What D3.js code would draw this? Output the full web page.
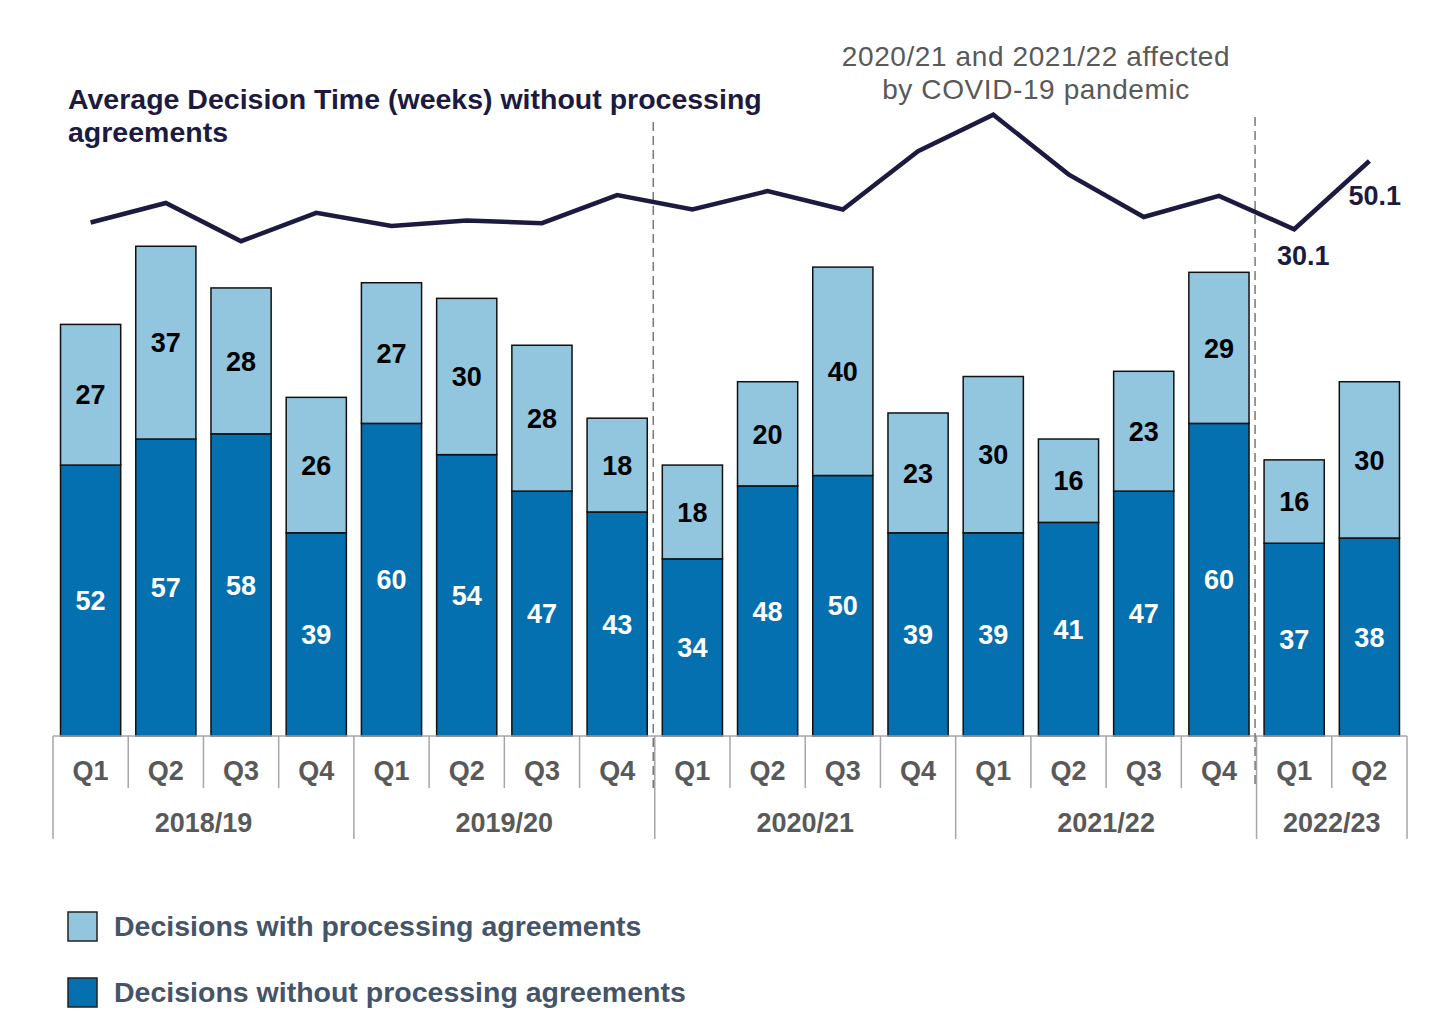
<!DOCTYPE html>
<html lang="en">
<head>
<meta charset="UTF-8">
<title>Average Decision Time</title>
<script src="https://d3js.org/d3.v7.min.js"></script>
<style>
  body { margin: 0; background: #fff; }
  text { font-family: "Liberation Sans", Arial, sans-serif; }
</style>
</head>
<body>
<div id="chart"></div>
<script>
// data
const years = ["2018/19", "2019/20", "2020/21", "2021/22", "2022/23"];
const yearQuarters = [4, 4, 4, 4, 2];
const quarters = ["Q1","Q2","Q3","Q4","Q1","Q2","Q3","Q4","Q1","Q2","Q3","Q4","Q1","Q2","Q3","Q4","Q1","Q2"];
const withPA = [27, 37, 28, 26, 27, 30, 28, 18, 18, 20, 40, 23, 30, 16, 23, 29, 16, 30];
const withoutPA = [52, 57, 58, 39, 60, 54, 47, 43, 34, 48, 50, 39, 39, 41, 47, 60, 37, 38];
const avgWeeks = [32.1, 37.8, 26.6, 34.9, 31.1, 32.7, 31.9, 40.1, 35.9, 41.3, 35.9, 53.0, 63.7, 46.2, 33.7, 39.9, 30.1, 50.1];
const labelledPoints = [16, 17];
const covidBreaks = [8, 16]; // dashed line before these bars

const W = 1450, H = 1036;
const darkBlue = "#0570b0", lightBlue = "#92c5de", navy = "#1c1a3f", grey = "#595959";

const svg = d3.select("#chart").append("svg")
  .attr("width", W).attr("height", H);

const idx = d3.range(quarters.length);
const x = d3.scaleBand().domain(idx).range([53, 1407])
  .paddingInner(0.2).paddingOuter(0.1);
const y = d3.scaleLinear().domain([0, 100]).range([736, 215]);
const yLine = d3.scaleLinear().domain([0, 80]).range([332, 59]);

const step = x.step();
const gapHalf = step * x.paddingInner() / 2;
const leftEdge = i => x(i) - gapHalf;

// stacked bars
const stacked = idx.map(i => ({ i, lo: withoutPA[i], hi: withPA[i] }));
const bars = svg.append("g");

bars.selectAll("rect.lo").data(stacked).join("rect")
  .attr("x", d => x(d.i)).attr("width", x.bandwidth())
  .attr("y", d => y(d.lo)).attr("height", d => y(0) - y(d.lo))
  .attr("fill", darkBlue).attr("stroke", "#111").attr("stroke-width", 1.5);

bars.selectAll("rect.hi").data(stacked).join("rect")
  .attr("x", d => x(d.i)).attr("width", x.bandwidth())
  .attr("y", d => y(d.lo + d.hi)).attr("height", d => y(d.lo) - y(d.lo + d.hi))
  .attr("fill", lightBlue).attr("stroke", "#111").attr("stroke-width", 1.5);

bars.selectAll("text.lo").data(stacked).join("text")
  .attr("x", d => x(d.i) + x.bandwidth() / 2)
  .attr("y", d => y(d.lo / 2)).attr("dy", "0.36em")
  .attr("text-anchor", "middle").attr("font-size", 27).attr("font-weight", "bold")
  .attr("fill", "#fff").text(d => d.lo);

bars.selectAll("text.hi").data(stacked).join("text")
  .attr("x", d => x(d.i) + x.bandwidth() / 2)
  .attr("y", d => y(d.lo + d.hi / 2)).attr("dy", "0.36em")
  .attr("text-anchor", "middle").attr("font-size", 27).attr("font-weight", "bold")
  .attr("fill", "#000").text(d => d.hi);

// category axis (two levels)
const axis = svg.append("g").attr("stroke", "#a6a6a6").attr("stroke-width", 1.5);
axis.append("line").attr("x1", x.range()[0]).attr("x2", x.range()[1])
  .attr("y1", y(0)).attr("y2", y(0));

let starts = [], s = 0;
yearQuarters.forEach(n => { starts.push(s); s += n; });
const isGroupStart = i => starts.includes(i);

idx.forEach(i => {
  if (i === 0 || isGroupStart(i)) return;
  axis.append("line").attr("x1", leftEdge(i)).attr("x2", leftEdge(i))
    .attr("y1", y(0)).attr("y2", 788);
});
starts.concat([quarters.length]).forEach(i => {
  const xx = i === 0 ? x.range()[0] : (i === quarters.length ? x.range()[1] : leftEdge(i));
  axis.append("line").attr("x1", xx).attr("x2", xx).attr("y1", y(0)).attr("y2", 839);
});

svg.append("g").selectAll("text").data(idx).join("text")
  .attr("x", i => x(i) + x.bandwidth() / 2).attr("y", 780)
  .attr("text-anchor", "middle").attr("font-size", 27).attr("font-weight", "bold")
  .attr("fill", grey).text(i => quarters[i]);

svg.append("g").selectAll("text").data(years).join("text")
  .attr("x", (d, k) => {
    const a = starts[k], b = a + yearQuarters[k];
    const x0 = a === 0 ? x.range()[0] : leftEdge(a);
    const x1 = b === quarters.length ? x.range()[1] : leftEdge(b);
    return (x0 + x1) / 2;
  })
  .attr("y", 832).attr("text-anchor", "middle").attr("font-size", 27)
  .attr("font-weight", "bold").attr("fill", grey).text(d => d);

// dashed covid markers
svg.append("g").selectAll("line").data(covidBreaks).join("line")
  .attr("x1", i => leftEdge(i) - 1.5).attr("x2", i => leftEdge(i) - 1.5)
  .attr("y1", (d, k) => k === 0 ? 122 : 117).attr("y2", 788)
  .attr("stroke", "#777").attr("stroke-width", 1.5).attr("stroke-dasharray", "9,5");

// average decision time line
const line = d3.line()
  .x((d, i) => x(i) + x.bandwidth() / 2)
  .y(d => yLine(d));

svg.append("path").datum(avgWeeks)
  .attr("fill", "none").attr("stroke", navy).attr("stroke-width", 4.5)
  .attr("stroke-linejoin", "miter").attr("d", line);

svg.append("g").selectAll("text").data(labelledPoints).join("text")
  .attr("x", (i, k) => x(i) + x.bandwidth() / 2 + (k === 0 ? 9 : -21))
  .attr("y", (i, k) => yLine(avgWeeks[i]) + (k === 0 ? 36 : 44))
  .attr("text-anchor", (i, k) => k === 0 ? "middle" : "start")
  .attr("font-size", 27).attr("font-weight", "bold").attr("fill", navy)
  .text(i => avgWeeks[i].toFixed(1));

// title
const title = svg.append("text").attr("x", 68).attr("y", 109)
  .attr("font-size", 28.5).attr("font-weight", "bold").attr("fill", navy);
title.append("tspan").attr("x", 68).text("Average Decision Time (weeks) without processing");
title.append("tspan").attr("x", 68).attr("dy", 33).text("agreements");

// covid note
const note = svg.append("text").attr("x", 1036).attr("y", 66)
  .attr("font-size", 28).attr("letter-spacing", 0.6)
  .attr("text-anchor", "middle").attr("fill", grey);
note.append("tspan").attr("x", 1036).text("2020/21 and 2021/22 affected");
note.append("tspan").attr("x", 1036).attr("dy", 33).text("by COVID-19 pandemic");

// legend
const legendItems = [
  { label: "Decisions with processing agreements", color: lightBlue },
  { label: "Decisions without processing agreements", color: darkBlue }
];
const lg = svg.append("g").selectAll("g").data(legendItems).join("g")
  .attr("transform", (d, k) => `translate(68, ${912 + k * 66})`);
lg.append("rect").attr("width", 29).attr("height", 29)
  .attr("fill", d => d.color).attr("stroke", "#222").attr("stroke-width", 1.5);
lg.append("text").attr("x", 46).attr("y", 24)
  .attr("font-size", 28.5).attr("font-weight", "bold").attr("fill", "#44546a")
  .text(d => d.label);
</script>
</body>
</html>
